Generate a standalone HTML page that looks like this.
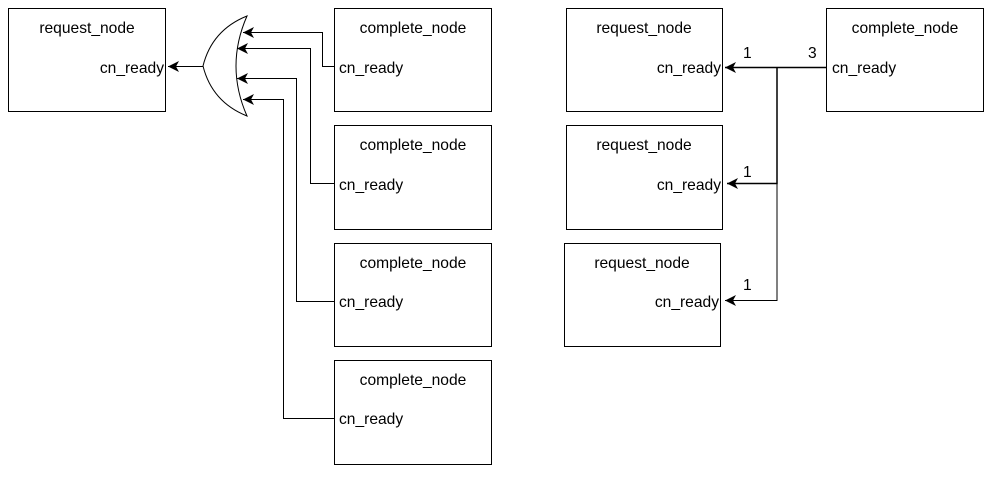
<!DOCTYPE html>
<html><head><style>
body{margin:0;background:#fff;}
svg text{font-family:"Liberation Sans",sans-serif;font-size:15.6px;fill:#000;}
</style></head><body>
<svg width="991" height="477" xmlns="http://www.w3.org/2000/svg">
<defs><marker id="a" markerWidth="12" markerHeight="12" refX="11" refY="5.5" orient="auto" markerUnits="userSpaceOnUse"><path d="M0,0 L11,5.5 L0,11 L3,5.5 Z" fill="#000"/></marker></defs>
<g fill="#fff" stroke="#000" stroke-width="1">
<rect x="8.5" y="8.5" width="157" height="103"/>
<rect x="334.5" y="8.5" width="157" height="103"/>
<rect x="334.5" y="125.5" width="157" height="104"/>
<rect x="334.5" y="243.5" width="157" height="103"/>
<rect x="334.5" y="360.5" width="157" height="104"/>
<rect x="566.5" y="8.5" width="156" height="103"/>
<rect x="566.5" y="125.5" width="156" height="104"/>
<rect x="564.5" y="243.5" width="156" height="103"/>
<rect x="826.5" y="8.5" width="157" height="103"/>
<path d="M247,16 Q212,30 203,66 Q212,102 247,116 Q225,66 247,16 Z"/>
</g>
<g fill="none" stroke="#000" stroke-width="1" marker-end="url(#a)">
<path d="M203,66.5 H168"/>
<path d="M334,66.5 H322.5 V32.5 H243"/>
<path d="M334,183.5 H310.5 V48.5 H237"/>
<path d="M334,301.5 H296.5 V78.5 H237"/>
<path d="M334,418.5 H283.5 V99.5 H243"/>
<path d="M826,67.5 H725" stroke-width="1.5"/>
<path d="M777,67 V183.5 H727" stroke-width="1.5"/>
<path d="M777,183 V300.5 H725"/>
</g>
<g text-anchor="middle">
<text x="87" y="33">request_node</text>
<text x="413" y="33">complete_node</text>
<text x="413" y="150">complete_node</text>
<text x="413" y="268">complete_node</text>
<text x="413" y="385">complete_node</text>
<text x="644" y="33">request_node</text>
<text x="644" y="150">request_node</text>
<text x="642" y="268">request_node</text>
<text x="905" y="33">complete_node</text>
</g>
<g text-anchor="end">
<text x="164" y="73">cn_ready</text>
<text x="721" y="73">cn_ready</text>
<text x="721" y="190">cn_ready</text>
<text x="719" y="307">cn_ready</text>
</g>
<text x="339" y="73">cn_ready</text>
<text x="339" y="190">cn_ready</text>
<text x="339" y="307">cn_ready</text>
<text x="339" y="424">cn_ready</text>
<text x="832" y="73">cn_ready</text>
<text x="743" y="58">1</text>
<text x="743" y="177">1</text>
<text x="743" y="290">1</text>
<text x="808" y="58">3</text>
</svg>
</body></html>
